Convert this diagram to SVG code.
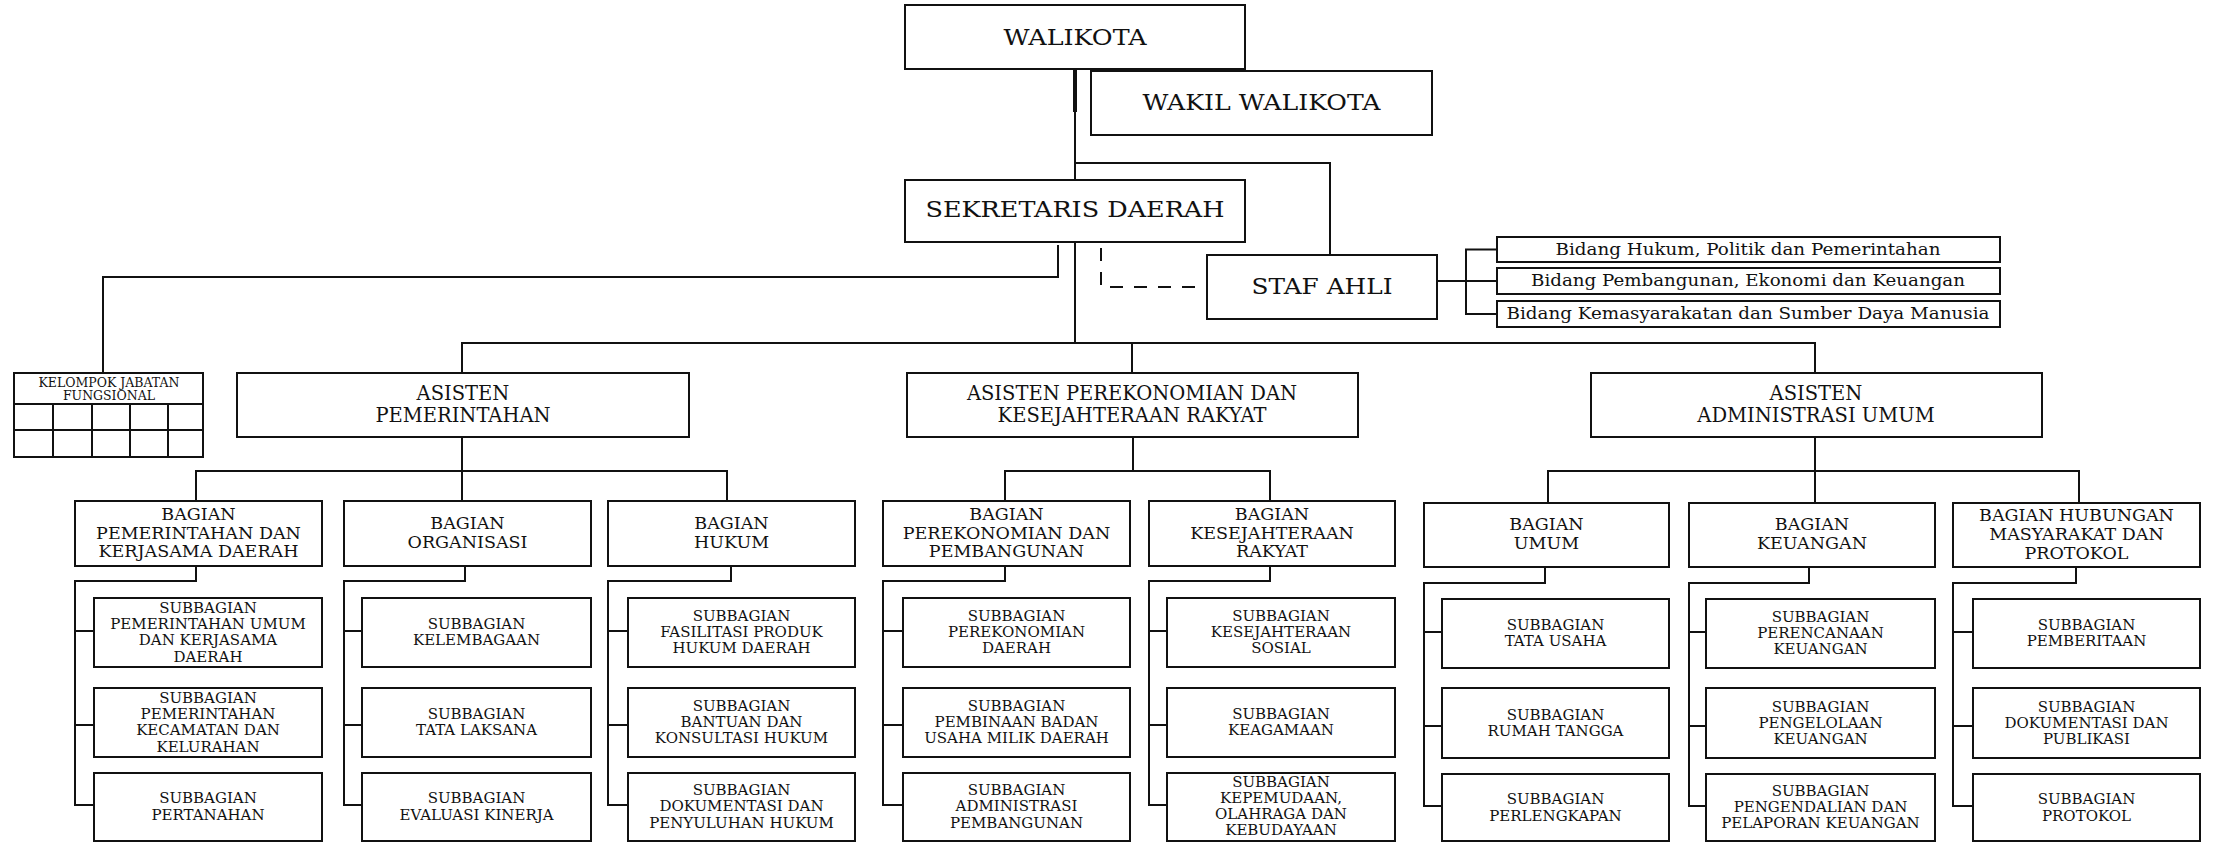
<svg xmlns="http://www.w3.org/2000/svg" width="2214" height="843" viewBox="0 0 2214 843">
<style>
.box{fill:#fff;stroke:#111;stroke-width:2}
.ln{fill:none;stroke:#111;stroke-width:2}
.dash{fill:none;stroke:#111;stroke-width:2;stroke-dasharray:13 11}
.t{font-family:"DejaVu Serif","Liberation Serif",serif;fill:#111;text-anchor:middle}
.t1{font-size:23px}
.t2{font-size:19.5px}
.t3{font-size:17.5px}
.t4{font-size:15px}
.t5{font-size:16.5px}
.t6{font-size:12.5px}
</style>
<rect width="2214" height="843" fill="#fff"/>
<g id="connectors">
  <path class="ln" d="M1075,69 V112" style="stroke-width:4"/>
  <path class="ln" d="M1075,112 V180"/>
  <path class="ln" d="M1075,163 H1330 V255"/>
  <path class="ln" d="M1075,242 V343"/>
  <path class="ln" d="M1058,245 V277 H103 V373"/>
  <path class="dash" d="M1101,248 V287 H1207"/>
  <path class="ln" d="M1437,281 H1466"/>
  <path class="ln" d="M1497,249.5 H1466 V314 H1497 M1466,281 H1497"/>
  <path class="ln" d="M462,373 V343 H1815 V373 M1132,343 V373"/>
  <path class="ln" d="M462,437 V501 M196,501 V471 H727 V501"/>
  <path class="ln" d="M1133,437 V471 M1005,501 V471 H1270 V501"/>
  <path class="ln" d="M1815,437 V503 M1548,503 V471 H2079 V503"/>
  <path class="ln" d="M196,566 V581 H75 V805 H94 M75,631 H94 M75,725 H94"/>
  <path class="ln" d="M465,566 V581 H344 V805 H362 M344,631 H362 M344,725 H362"/>
  <path class="ln" d="M731,566 V581 H608 V805 H628 M608,631 H628 M608,725 H628"/>
  <path class="ln" d="M1005,566 V581 H883 V805 H903 M883,631 H903 M883,725 H903"/>
  <path class="ln" d="M1270,566 V581 H1149 V805 H1167 M1149,631 H1167 M1149,725 H1167"/>
  <path class="ln" d="M1545,567 V583 H1424 V806 H1442 M1424,632 H1442 M1424,726 H1442"/>
  <path class="ln" d="M1809,567 V583 H1689 V806 H1706 M1689,632 H1706 M1689,726 H1706"/>
  <path class="ln" d="M2076,567 V583 H1953 V806 H1973 M1953,632 H1973 M1953,726 H1973"/>
</g>
<g id="walikota"><rect class="box" x="905" y="5" width="340" height="64"/><text class="t t1" x="1075" y="45" textLength="143" lengthAdjust="spacingAndGlyphs">WALIKOTA</text></g>
<g id="wakil-walikota"><rect class="box" x="1091" y="71" width="341" height="64"/><text class="t t1" x="1261.5" y="110" textLength="238" lengthAdjust="spacingAndGlyphs">WAKIL WALIKOTA</text></g>
<g id="sekretaris-daerah"><rect class="box" x="905" y="180" width="340" height="62"/><text class="t t1" x="1075" y="217" textLength="299" lengthAdjust="spacingAndGlyphs">SEKRETARIS DAERAH</text></g>
<g id="staf-ahli"><rect class="box" x="1207" y="255" width="230" height="64"/><text class="t t1" x="1322" y="294" textLength="141" lengthAdjust="spacingAndGlyphs">STAF AHLI</text></g>
<g id="bidang-hukum"><rect class="box" x="1497" y="237" width="503" height="25"/><text class="t t5" x="1748" y="255" textLength="385" lengthAdjust="spacingAndGlyphs">Bidang Hukum, Politik dan Pemerintahan</text></g>
<g id="bidang-pembangunan"><rect class="box" x="1497" y="268" width="503" height="26"/><text class="t t5" x="1748" y="286" textLength="434" lengthAdjust="spacingAndGlyphs">Bidang Pembangunan, Ekonomi dan Keuangan</text></g>
<g id="bidang-kemasyarakatan"><rect class="box" x="1497" y="301" width="503" height="26"/><text class="t t5" x="1748" y="319" textLength="483" lengthAdjust="spacingAndGlyphs">Bidang Kemasyarakatan dan Sumber Daya Manusia</text></g>
<g id="kelompok-jabatan-fungsional">
  <rect class="box" x="14" y="373" width="189" height="84"/>
  <path class="ln" d="M14,404 H203 M14,430 H203 M53,404 V457 M92,404 V457 M130,404 V457 M168,404 V457"/>
  <text class="t t6" x="109" y="387">KELOMPOK JABATAN</text>
  <text class="t t6" x="109" y="400">FUNGSIONAL</text>
</g>
<g id="asisten-pemerintahan"><rect class="box" x="237" y="373" width="452" height="64"/><text class="t t2" x="463" y="400">ASISTEN</text><text class="t t2" x="463" y="422">PEMERINTAHAN</text></g>
<g id="asisten-perekonomian"><rect class="box" x="907" y="373" width="451" height="64"/><text class="t t2" x="1132" y="400">ASISTEN PEREKONOMIAN DAN</text><text class="t t2" x="1132" y="422">KESEJAHTERAAN RAKYAT</text></g>
<g id="asisten-administrasi"><rect class="box" x="1591" y="373" width="451" height="64"/><text class="t t2" x="1816" y="400">ASISTEN</text><text class="t t2" x="1816" y="422">ADMINISTRASI UMUM</text></g>

<g id="bagian-pemerintahan"><rect class="box" x="75" y="501" width="247" height="65"/><text class="t t3" x="198.5" y="520">BAGIAN</text><text class="t t3" x="198.5" y="538.5">PEMERINTAHAN DAN</text><text class="t t3" x="198.5" y="557">KERJASAMA DAERAH</text></g>
<g id="bagian-organisasi"><rect class="box" x="344" y="501" width="247" height="65"/><text class="t t3" x="467.5" y="529">BAGIAN</text><text class="t t3" x="467.5" y="548">ORGANISASI</text></g>
<g id="bagian-hukum"><rect class="box" x="608" y="501" width="247" height="65"/><text class="t t3" x="731.5" y="529">BAGIAN</text><text class="t t3" x="731.5" y="548">HUKUM</text></g>
<g id="bagian-perekonomian"><rect class="box" x="883" y="501" width="247" height="65"/><text class="t t3" x="1006.5" y="520">BAGIAN</text><text class="t t3" x="1006.5" y="538.5">PEREKONOMIAN DAN</text><text class="t t3" x="1006.5" y="557">PEMBANGUNAN</text></g>
<g id="bagian-kesejahteraan"><rect class="box" x="1149" y="501" width="246" height="65"/><text class="t t3" x="1272" y="520">BAGIAN</text><text class="t t3" x="1272" y="538.5">KESEJAHTERAAN</text><text class="t t3" x="1272" y="557">RAKYAT</text></g>
<g id="bagian-umum"><rect class="box" x="1424" y="503" width="245" height="64"/><text class="t t3" x="1546.5" y="530">BAGIAN</text><text class="t t3" x="1546.5" y="549">UMUM</text></g>
<g id="bagian-keuangan"><rect class="box" x="1689" y="503" width="246" height="64"/><text class="t t3" x="1812" y="530">BAGIAN</text><text class="t t3" x="1812" y="549">KEUANGAN</text></g>
<g id="bagian-humas"><rect class="box" x="1953" y="503" width="247" height="64"/><text class="t t3" x="2076.5" y="521">BAGIAN HUBUNGAN</text><text class="t t3" x="2076.5" y="540">MASYARAKAT DAN</text><text class="t t3" x="2076.5" y="559">PROTOKOL</text></g>

<g id="sub-pemerintahan-umum"><rect class="box" x="94" y="598" width="228" height="69"/><text class="t t4" x="208" y="612.5">SUBBAGIAN</text><text class="t t4" x="208" y="629">PEMERINTAHAN UMUM</text><text class="t t4" x="208" y="645">DAN KERJASAMA</text><text class="t t4" x="208" y="661.5">DAERAH</text></g>
<g id="sub-pemerintahan-kecamatan"><rect class="box" x="94" y="688" width="228" height="69"/><text class="t t4" x="208" y="702.5">SUBBAGIAN</text><text class="t t4" x="208" y="719">PEMERINTAHAN</text><text class="t t4" x="208" y="735">KECAMATAN DAN</text><text class="t t4" x="208" y="751.5">KELURAHAN</text></g>
<g id="sub-pertanahan"><rect class="box" x="94" y="773" width="228" height="68"/><text class="t t4" x="208" y="803">SUBBAGIAN</text><text class="t t4" x="208" y="820">PERTANAHAN</text></g>

<g id="sub-kelembagaan"><rect class="box" x="362" y="598" width="229" height="69"/><text class="t t4" x="476.5" y="629">SUBBAGIAN</text><text class="t t4" x="476.5" y="645">KELEMBAGAAN</text></g>
<g id="sub-tata-laksana"><rect class="box" x="362" y="688" width="229" height="69"/><text class="t t4" x="476.5" y="719">SUBBAGIAN</text><text class="t t4" x="476.5" y="735">TATA LAKSANA</text></g>
<g id="sub-evaluasi-kinerja"><rect class="box" x="362" y="773" width="229" height="68"/><text class="t t4" x="476.5" y="803">SUBBAGIAN</text><text class="t t4" x="476.5" y="820">EVALUASI KINERJA</text></g>

<g id="sub-fasilitasi"><rect class="box" x="628" y="598" width="227" height="69"/><text class="t t4" x="741.5" y="621">SUBBAGIAN</text><text class="t t4" x="741.5" y="637">FASILITASI PRODUK</text><text class="t t4" x="741.5" y="653">HUKUM DAERAH</text></g>
<g id="sub-bantuan"><rect class="box" x="628" y="688" width="227" height="69"/><text class="t t4" x="741.5" y="711">SUBBAGIAN</text><text class="t t4" x="741.5" y="727">BANTUAN DAN</text><text class="t t4" x="741.5" y="743">KONSULTASI HUKUM</text></g>
<g id="sub-dokumentasi-hukum"><rect class="box" x="628" y="773" width="227" height="68"/><text class="t t4" x="741.5" y="795">SUBBAGIAN</text><text class="t t4" x="741.5" y="811">DOKUMENTASI DAN</text><text class="t t4" x="741.5" y="828">PENYULUHAN HUKUM</text></g>

<g id="sub-perekonomian"><rect class="box" x="903" y="598" width="227" height="69"/><text class="t t4" x="1016.5" y="621">SUBBAGIAN</text><text class="t t4" x="1016.5" y="637">PEREKONOMIAN</text><text class="t t4" x="1016.5" y="653">DAERAH</text></g>
<g id="sub-bumd"><rect class="box" x="903" y="688" width="227" height="69"/><text class="t t4" x="1016.5" y="711">SUBBAGIAN</text><text class="t t4" x="1016.5" y="727">PEMBINAAN BADAN</text><text class="t t4" x="1016.5" y="743">USAHA MILIK DAERAH</text></g>
<g id="sub-administrasi-pembangunan"><rect class="box" x="903" y="773" width="227" height="68"/><text class="t t4" x="1016.5" y="795">SUBBAGIAN</text><text class="t t4" x="1016.5" y="811">ADMINISTRASI</text><text class="t t4" x="1016.5" y="828">PEMBANGUNAN</text></g>

<g id="sub-kesejahteraan-sosial"><rect class="box" x="1167" y="598" width="228" height="69"/><text class="t t4" x="1281" y="621">SUBBAGIAN</text><text class="t t4" x="1281" y="637">KESEJAHTERAAN</text><text class="t t4" x="1281" y="653">SOSIAL</text></g>
<g id="sub-keagamaan"><rect class="box" x="1167" y="688" width="228" height="69"/><text class="t t4" x="1281" y="719">SUBBAGIAN</text><text class="t t4" x="1281" y="735">KEAGAMAAN</text></g>
<g id="sub-kepemudaan"><rect class="box" x="1167" y="773" width="228" height="68"/><text class="t t4" x="1281" y="787">SUBBAGIAN</text><text class="t t4" x="1281" y="803">KEPEMUDAAN,</text><text class="t t4" x="1281" y="819">OLAHRAGA DAN</text><text class="t t4" x="1281" y="835">KEBUDAYAAN</text></g>

<g id="sub-tata-usaha"><rect class="box" x="1442" y="599" width="227" height="69"/><text class="t t4" x="1555.5" y="630">SUBBAGIAN</text><text class="t t4" x="1555.5" y="646">TATA USAHA</text></g>
<g id="sub-rumah-tangga"><rect class="box" x="1442" y="688" width="227" height="70"/><text class="t t4" x="1555.5" y="720">SUBBAGIAN</text><text class="t t4" x="1555.5" y="736">RUMAH TANGGA</text></g>
<g id="sub-perlengkapan"><rect class="box" x="1442" y="774" width="227" height="67"/><text class="t t4" x="1555.5" y="804">SUBBAGIAN</text><text class="t t4" x="1555.5" y="821">PERLENGKAPAN</text></g>

<g id="sub-perencanaan-keuangan"><rect class="box" x="1706" y="599" width="229" height="69"/><text class="t t4" x="1820.5" y="622">SUBBAGIAN</text><text class="t t4" x="1820.5" y="638">PERENCANAAN</text><text class="t t4" x="1820.5" y="654">KEUANGAN</text></g>
<g id="sub-pengelolaan-keuangan"><rect class="box" x="1706" y="688" width="229" height="70"/><text class="t t4" x="1820.5" y="712">SUBBAGIAN</text><text class="t t4" x="1820.5" y="728">PENGELOLAAN</text><text class="t t4" x="1820.5" y="744">KEUANGAN</text></g>
<g id="sub-pengendalian"><rect class="box" x="1706" y="774" width="229" height="67"/><text class="t t4" x="1820.5" y="796">SUBBAGIAN</text><text class="t t4" x="1820.5" y="812">PENGENDALIAN DAN</text><text class="t t4" x="1820.5" y="828">PELAPORAN KEUANGAN</text></g>

<g id="sub-pemberitaan"><rect class="box" x="1973" y="599" width="227" height="69"/><text class="t t4" x="2086.5" y="630">SUBBAGIAN</text><text class="t t4" x="2086.5" y="646">PEMBERITAAN</text></g>
<g id="sub-dokumentasi-publikasi"><rect class="box" x="1973" y="688" width="227" height="70"/><text class="t t4" x="2086.5" y="712">SUBBAGIAN</text><text class="t t4" x="2086.5" y="728">DOKUMENTASI DAN</text><text class="t t4" x="2086.5" y="744">PUBLIKASI</text></g>
<g id="sub-protokol"><rect class="box" x="1973" y="774" width="227" height="67"/><text class="t t4" x="2086.5" y="804">SUBBAGIAN</text><text class="t t4" x="2086.5" y="821">PROTOKOL</text></g>
</svg>
